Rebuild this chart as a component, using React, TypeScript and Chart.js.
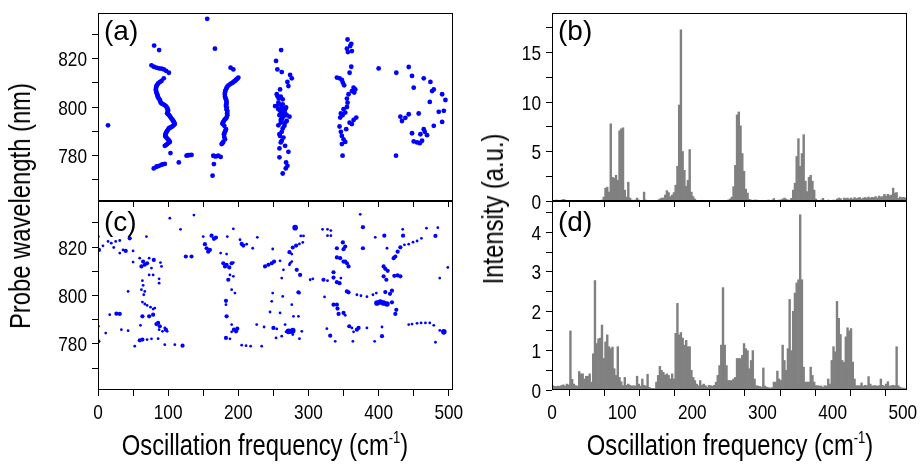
import React, { useEffect, useRef } from 'react';
import { Chart, registerables } from 'chart.js';

Chart.register(...registerables);

// ---------------- data ----------------
const FREQ_MAX = 506;
const BIN_WIDTH = 2.5; // histogram bin width (cm-1), bins start at 0
const FREQ_TICKS = [0, 50, 100, 150, 200, 250, 300, 350, 400, 450, 500];
const FREQ_LABELS = [0, 100, 200, 300, 400, 500];

const WAVE_MIN = 761;
const WAVE_MAX = 839;
const WAVE_TICKS = [770, 780, 790, 800, 810, 820, 830];
const WAVE_LABELS = [780, 800, 820];

const INT_B_MAX = 19;
const INT_B_TICKS = [0, 2.5, 5, 7.5, 10, 12.5, 15, 17.5];
const INT_B_LABELS = [0, 5, 10, 15];

const INT_D_MAX = 4.8;
const INT_D_TICKS = [0, 0.5, 1, 1.5, 2, 2.5, 3, 3.5, 4, 4.5];
const INT_D_LABELS = [0, 1, 2, 3, 4];

// (b) histogram intensities, 2.5 cm-1 bins from 0
const intensityB = [
  0.05, 0.05, 0.1, 0.05, 0.05, 0.1, 0.17, 0.1, 0.05, 0.05,
  0.05, 0, 0.05, 0, 0.05, 0.05, 0, 0.05, 0, 0.05,
  0, 0.05, 0, 0.05, 0, 0.05, 0.05, 0, 0.1, 0.4,
  1.3, 1.4, 0.9, 7.8, 2.4, 2.3, 2.6, 2.1, 7.1, 7.3,
  7.4, 1.1, 0.4, 1.9, 0.3, 0.1, 0.05, 0.1, 0.3, 0.1,
  0.05, 0.05, 0.9, 0.1, 0, 0, 0.05, 0, 0.05, 0.05,
  0.1, 0.2, 0.3, 0.3, 0.6, 1.05, 0.85, 0.45, 0.6, 0.85,
  1.6, 3.5, 9.7, 17.3, 5.0, 3.1, 1.5, 2.1, 5.2, 0.9,
  0.45, 0.2, 0.05, 0, 0.05, 0, 0, 0.05, 0, 0,
  0, 0.05, 0, 0, 0.05, 0, 0, 0.05, 0, 0.05,
  0.1, 0.2, 0.4, 1.45, 3.6, 8.7, 9.0, 7.6, 4.8, 3.0,
  1.2, 0.8, 0.17, 0.1, 0.05, 0.1, 0.1, 0.05, 0.05, 0,
  0.05, 0.05, 0.05, 0.1, 0.05, 0.1, 0.25, 0.05, 0.05, 0.1,
  0.1, 0.2, 0.3, 0.2, 0.1, 0.1, 0.27, 1.1, 1.8, 4.5,
  6.3, 3.5, 4.8, 6.7, 2.0, 0.95, 2.4, 2.6, 2.0, 1.1,
  0.2, 0.05, 0.05, 0.1, 0.27, 0.05, 0.05, 0.1, 0.05, 0.05,
  0.1, 0.05, 0.2, 0.3, 0.25, 0.05, 0.3, 0.25, 0.3, 0.2,
  0.3, 0.2, 0.35, 0.25, 0.3, 0.35, 0.2, 0.3, 0.35, 0.3,
  0.4, 0.3, 0.37, 0.35, 0.45, 0.3, 0.5, 0.4, 0.45, 0.68,
  0.5, 0.68, 0.55, 0.6, 1.3, 0.8, 0.85, 0.27, 0.4, 0.34,
  0.37, 0.3,
];

// (d) histogram intensities, 2.5 cm-1 bins from 0
const intensityD = [
  0.11, 0.09, 0.09, 0.1, 0.09, 0.12, 0.13, 0.1, 0.15, 0.13,
  1.5, 0.27, 0.15, 0.11, 0.1, 0.47, 0.41, 0.41, 0.28, 0.35,
  0.35, 0.41, 0.2, 0.92, 2.78, 1.18, 1.3, 1.32, 1.65, 0.8,
  1.22, 1.4, 1.1, 1.05, 1.09, 0.54, 0.37, 1.1, 0.32, 0.21,
  0.11, 0.32, 0.12, 0.15, 0.12, 0.1, 0.11, 0.1, 0.35, 0.15,
  0.1, 0.28, 0.12, 0.1, 0.4, 0.07, 0.04, 0.04, 0.04, 0.2,
  0.37, 0.6, 0.5, 0.45, 0.38, 0.41, 0.37, 0.28, 0.41, 0.28,
  1.44, 2.2, 1.4, 1.46, 1.32, 1.14, 1.26, 1.1, 1.1, 0.5,
  0.32, 0.24, 0.15, 0.11, 0.24, 0.12, 0.15, 0.11, 0.07, 0.12,
  0.11, 0.1, 0.12, 0.2, 0.37, 0.62, 1.14, 2.6, 1.14, 0.62,
  0.24, 0.24, 0.24, 0.28, 0.32, 0.8, 0.8, 0.8, 0.88, 1.18,
  1.05, 1.0, 0.54, 0.75, 1.0, 0.28, 0.11, 0.1, 0.09, 0.07,
  0.56, 0.1, 0.07, 0.06, 0.05, 0.06, 0.2, 0.2, 0.48, 0.28,
  0.24, 1.14, 0.75, 0.5, 1.05, 2.3, 1.0, 2.0, 2.46, 2.72,
  2.8, 4.45, 2.8, 0.58, 0.2, 0.2, 0.2, 0.58, 0.37, 0.2,
  0.11, 0.11, 0.1, 0.1, 0.07, 0.11, 0.1, 0.28, 0.15, 0.75,
  1.1, 0.97, 2.25, 1.82, 1.41, 0.75, 0.7, 1.35, 1.58, 1.5,
  1.56, 0.71, 0.28, 0.11, 0.11, 0.11, 0.18, 0.1, 0.12, 0.11,
  0.34, 0.15, 0.1, 0.11, 0.11, 0.1, 0.11, 0.28, 0.12, 0.1,
  0.15, 0.21, 0.1, 0.11, 0.12, 0.11, 1.1, 0.11, 0.07, 0.05,
  0.05, 0.04,
];

// (a) peak positions: [frequency cm-1, probe wavelength nm]
const peaksA: [number, number][] = [
  [14.3, 792.4], [155.7, 836.6], [166.7, 824.2],
  [80, 825.5], [87.1, 823.6], [76.2, 817.3], [79.5, 816.7], [83.3, 816.3], [87.1, 816.0], [90.5, 815.9], [93.8, 815.6], [97, 815], [101, 814.2],
  [93.8, 811.9], [90.5, 810.8], [88, 810.3], [85.7, 809.8], [84.5, 809.2], [83.3, 808.7], [82.8, 808.0], [82.4, 807.3], [82.8, 806.6], [83.3, 806.0],
  [84, 805.4], [84.8, 804.9], [85.3, 804.4], [85.7, 803.9], [87, 803.4], [88.1, 802.9], [88.8, 802.3], [89.5, 801.8], [91, 801.4], [92.9, 801.1],
  [94.8, 800.8], [96.7, 800.4], [98, 799.8], [99, 799.3], [99.5, 798.9], [100, 798.4], [99.3, 797.9], [98.6, 797.4], [100, 797], [101.4, 796.6],
  [102.6, 796.1], [103.8, 795.6], [105, 795.1], [106.2, 794.6], [107.2, 794.2], [108.1, 793.8], [108.8, 793.4], [109.5, 792.9], [108.3, 792.6],
  [107.1, 792.2], [105.2, 791.8], [103.3, 791.5], [102, 791.3], [101, 791.1], [99.8, 790.6], [98.6, 790.1], [97.6, 789.6], [96.7, 789.1],
  [96, 788.5], [95.7, 788.0], [96.6, 787.7], [97.6, 787.3], [99, 786.8], [100.5, 786.4], [101.5, 785.9], [102.4, 785.5], [100.5, 785.1],
  [98.6, 784.6], [96.9, 784.2], [95.2, 783.9], [103.3, 780.9],
  [79.5, 774.5], [83.3, 775.2], [84.5, 775.4], [87.1, 775.6], [90.5, 776.0], [92, 776.2], [95.2, 776.4], [115.2, 777.0],
  [126.2, 779.8], [128.5, 780], [130, 780.0], [133.3, 780.1],
  [163.3, 771.5], [165.2, 776.3], [164.3, 779.8], [166, 779.6], [168.1, 779.5], [171.4, 779.8], [174.8, 779.3],
  [176.2, 784.6], [177.4, 785.0], [178.6, 785.5], [181, 786.6], [180, 787.6], [179.5, 788.7], [180.2, 789.2], [181, 789.7], [181.7, 790.2],
  [182.4, 790.8], [180, 792.2], [177.6, 792.9], [177.6, 793.3], [178.6, 793.8], [179.8, 794.4], [181, 794.9], [182.2, 795.2], [183.3, 795.6],
  [184.3, 796.6], [184, 797.3], [184.3, 798.0], [184, 798.6], [183.3, 799.1], [183.5, 799.8], [182.4, 800.4], [182.8, 801.1], [183.3, 801.8],
  [183, 802.5], [182.4, 803.2], [181.6, 803.8], [181, 804.3], [180.8, 805.2], [181, 806], [181.5, 806.7], [182.4, 807.3], [183.2, 807.9],
  [184.3, 808.4], [186, 809], [188.1, 809.4], [190, 809.8], [191.9, 810.1], [193.5, 810.5], [195.2, 810.8], [196.5, 811.2], [197.6, 811.5],
  [198.8, 811.8], [200, 812.2], [192.9, 815.6], [189, 816.3],
  [261, 823.6], [253.8, 819.1], [255.7, 815.6], [261.9, 814.5], [273.8, 813.3], [276.2, 811.9], [270, 810.4], [271.4, 808.7], [259.5, 807.3],
  [254.8, 805.3], [260.5, 804.3], [263.3, 803.2], [258.6, 801.1], [261.9, 799.8], [265.2, 799.1], [259.5, 798.4], [264.3, 797.0], [269, 796.6],
  [262.4, 795.6], [260.5, 794.6], [266.7, 793.5], [265.7, 792.2], [261.9, 789.7], [259.5, 788.0], [261.9, 786.0], [258.6, 782.8], [266.7, 783.9],
  [271.4, 781.4], [258.6, 779.1], [268.1, 777.0], [270, 775.6], [267.6, 774.5], [263.3, 772.4],
  [257.1, 801.8], [263.3, 801.1], [254.8, 800.4], [268.1, 799.8], [257.1, 799.1], [261.9, 797.7], [266.7, 797.4], [258.6, 796.6], [264.3, 796.0],
  [261.9, 794.9], [269, 794.2], [260.5, 793.5], [257.1, 792.4], [263.3, 791.1], [258.6, 788.7], [264.3, 787.3], [260.5, 785.3], [266.7, 799.1],
  [272.9, 796.0], [252.4, 800.4], [255.7, 804.6], [257.6, 803.5],
  [355.7, 828.0], [361, 826.2], [359.5, 825.3], [354.8, 824.2], [361.9, 823.2], [356.2, 822.8], [361, 816.7], [358.6, 814.2], [340.5, 812.2],
  [344.3, 811.9], [347.6, 811.2], [349, 810.1], [350.9, 809.0], [364.3, 808.0], [366.7, 807.3], [361.9, 806.6], [365.2, 806.0], [357.1, 805.3],
  [354.8, 803.5], [355.7, 801.8], [354.8, 800.0], [350, 799.1], [352.4, 797.7], [346.2, 797.3], [348.6, 796.6], [345.2, 795.6], [368.1, 795.6],
  [364.3, 794.6], [358.6, 793.5], [361.9, 792.9], [344.3, 791.9], [353.8, 790.8], [346.2, 789.7], [347.6, 788.0], [350, 786.6], [352.4, 785.5],
  [347.6, 784.6], [348.6, 779.8],
  [400, 816.0],
  [425.2, 814.2], [442.9, 816.6], [447.6, 812.9], [464.3, 811.9], [473.8, 810.4], [450, 808.0], [478.6, 807.3], [476.2, 806.6], [490.5, 805.3],
  [495.2, 802.9], [472.9, 802.1], [485.7, 798], [492.9, 798.4], [457.1, 797.3], [442.9, 797.0], [431, 796.0], [433.3, 794.2], [438.1, 795.5],
  [490.5, 793.8], [478.6, 792.2], [464.3, 790.8], [465.7, 789.7], [459.5, 788.7], [447.6, 789.1], [469, 788.3], [461.9, 786.0], [454.8, 785.3],
  [450, 785.7], [458.6, 785.0], [424.8, 779.8],
];

// (c) peak positions, grouped by marker size class
const peaksCLarge: [number, number][] = [
  [281, 828.0], [271.4, 785.2], [277.6, 785.5], [397.6, 796.9], [402.4, 797.3], [407.1, 796.9], [411.9, 796.5], [492.9, 785.0],
];

const peaksCMedium: [number, number][] = [
  [377.6, 828.2], [45.2, 823.6], [161.9, 824.7], [168.1, 823.9], [165.2, 823.4], [408.1, 824.7], [434.8, 824.7], [481, 824.6],
  [1.4, 818.8], [39.5, 818.4], [152.4, 821.2], [154.8, 819.5], [159.5, 818.8], [157.1, 818.1], [204.8, 821.3], [207.1, 820.6],
  [277.6, 819.8], [282.4, 820.6], [272.9, 817.9], [340.5, 819.5], [349, 821.9], [350, 819.1], [352.4, 820.2], [377.6, 819.5],
  [431, 819.9], [427.1, 818.1], [421.4, 815.4], [125.2, 816.1], [133.3, 816.1], [64.3, 814.0], [66.7, 812.7], [70, 813.3],
  [79.5, 814.7], [61.9, 812.0], [178.6, 813.3], [183.3, 812.7], [190.5, 813.3], [181, 812.0], [187.1, 811.6], [238.1, 812.0],
  [242.9, 812.7], [247.6, 813.3], [251, 814.0], [340.5, 815.7], [345.2, 815.4], [352.4, 814.0], [354.8, 813.3], [357.1, 812.0],
  [350, 814.0], [407.1, 812.0], [409.5, 811.0], [412.9, 810.2], [423.8, 816.1], [185.7, 806.5], [283.3, 810.6], [288.1, 808.5],
  [321.4, 806.5], [335.7, 809.6], [335.7, 807.4], [340.5, 805.5], [344.3, 805.1], [407.1, 807.9], [411, 806.5], [422.4, 808.1],
  [427.1, 808.3], [431, 807.9], [182.4, 797.8], [285.7, 801.3], [354.8, 801.7], [357.1, 801.3], [409.5, 801.4], [419, 802.0],
  [416.2, 800.7], [419, 797.2], [335.7, 796.2], [340.5, 796.2], [341.4, 794.6], [342.9, 792.4], [350, 792.8], [26.2, 792.5],
  [31, 792.4], [63.3, 791.4], [72.9, 791.4], [78.6, 792.1], [83.3, 788.2], [85.7, 788.7], [88.1, 787.3], [96.7, 785.9],
  [183.3, 791.4], [193.8, 785.9], [198.6, 786.3], [196.7, 785.2], [182.4, 782.5], [250, 786.6], [274.8, 785.0], [331, 783.4],
  [358.1, 787.3], [369, 785.9], [371.4, 786.6], [423.8, 792.4], [425.2, 794.1], [0.5, 781.1], [59.5, 781.5], [63.3, 781.8],
  [120.5, 779.3], [404.8, 783.2],
];

const peaksCSmall: [number, number][] = [
  [102.4, 831.9], [136.7, 833.2], [373.8, 833.5], [117.6, 827.3], [192.9, 827.5], [320, 827.3], [327.1, 827.3], [331.9, 826.8],
  [434.3, 827.3], [468.1, 827.8], [484.3, 828.0], [0.5, 824.3], [14.3, 822.3], [19, 821.6], [25.2, 822.3], [31, 822.7],
  [69, 824.3], [150, 824.3], [184.3, 824.3], [202.4, 823.0], [227.1, 824.0], [289, 824.6], [292.9, 824.6], [327.1, 824.7],
  [331.9, 824.7], [395.2, 824.0], [7.1, 820.5], [22.4, 819.8], [35.7, 818.8], [50, 818.4], [31, 817.5], [174.8, 817.5],
  [183.3, 817.1], [211.9, 821.2], [220.5, 819.5], [249, 819.2], [287.1, 821.3], [291.9, 821.9], [276.2, 817.1], [411.9, 819.5],
  [436.7, 820.9], [442.9, 821.2], [449, 822.0], [454.8, 822.5], [461, 823.6], [59.5, 815.4], [72.9, 815.4], [50, 813.8],
  [89, 813.6], [76.2, 811.3], [90.5, 812.0], [192.9, 813.6], [259.5, 814.3], [273.8, 813.3], [272.9, 812.7], [276.2, 814.0],
  [72.9, 808.5], [78.6, 808.5], [63.3, 806.1], [64.3, 804.2], [87.1, 806.9], [87.1, 805.1], [61.9, 802.4], [66.7, 801.7],
  [65.2, 800.3], [42.9, 801.7], [188.1, 808.5], [192.9, 807.9], [264.3, 810.6], [261.9, 807.2], [302.4, 806.5], [306.2, 806.9],
  [327.1, 806.1], [346.2, 807.2], [487.1, 807.2], [498.6, 811.6], [190.5, 802.4], [195.2, 801.0], [182.4, 796.2], [249, 801.0],
  [263.3, 799.6], [287.1, 801.0], [369, 800.3], [374.8, 799.9], [383.3, 799.5], [391.9, 800.3], [396.7, 801.0], [322.9, 799.4],
  [247.6, 797.6], [245.2, 793.2], [276.2, 796.2], [259.5, 792.8], [278.6, 791.4], [285.7, 791.4], [63.3, 797.3], [66.7, 796.5],
  [70, 795.9], [74.8, 795.2], [78.6, 794.4], [81, 794.8], [352.4, 791.8], [16.7, 792.1], [95.2, 786.6], [98.6, 785.2],
  [91.9, 785.2], [87.1, 785.9], [60.5, 787.7], [190.5, 788.0], [190.5, 785.0], [188.1, 782.1], [226.2, 788.0], [236.7, 787.0],
  [254.8, 786.2], [266.7, 788.0], [268.1, 785.0], [287.1, 782.2], [290.5, 785.2], [326.2, 786.3], [361.9, 786.6], [364.3, 785.0],
  [383.3, 786.6], [404.8, 787.0], [442.9, 788.0], [447.6, 788.2], [454.8, 788.5], [460.5, 788.7], [466.7, 788.7], [472.9, 788.7],
  [478.6, 787.7], [487.1, 785.6], [0.5, 787.3], [11, 784.5], [33.3, 785.9], [42.9, 785.5], [52.4, 779.1], [70, 781.8],
  [76.2, 782.1], [85.7, 782.2], [95.2, 779.7], [109.5, 779.7], [204.8, 779.5], [211, 779.3], [217.6, 779.1], [233.3, 779.1],
  [253.8, 782.5], [261.9, 783.2], [277.6, 783.9], [338.1, 781.1], [363.3, 781.1], [394.3, 781.1], [481, 780.7],
];

// ---------------- layout / style ----------------
const W = 921;
const H = 464;
const Y_AXIS_W = 70;
const X_AXIS_H = 40;
const TICK_LEN = 6;
const TICK_FONT_SIZE = 21;
const CONDENSE = 0.82; // horizontal squeeze to imitate a narrow sans face
const REGULAR = "'Liberation Sans', Arial, sans-serif";
const BLUE = '#0000ff';
const GREY = '#808080';

type Area = { left: number; top: number; right: number; bottom: number };

const framePlugin = {
  id: 'frame',
  afterDatasetsDraw(chart: any) {
    const { ctx, chartArea: a } = chart;
    ctx.save();
    ctx.strokeStyle = '#000';
    ctx.lineWidth = 1;
    const l = Math.round(a.left) + 0.5;
    const t = Math.round(a.top) + 0.5;
    const r = Math.round(a.right) - 0.5;
    const b = Math.round(a.bottom) - 0.5;
    ctx.strokeRect(l, t, r - l, b - t);
    ctx.restore();
  },
};

// Draws tick labels of the chart's own scales in a condensed face
const condensedTickLabels = {
  id: 'condensedTickLabels',
  afterDraw(chart: any, _args: any, opts: any) {
    const { ctx } = chart;
    const xs = chart.scales.x;
    const ys = chart.scales.y;
    ctx.save();
    ctx.fillStyle = '#000';
    ctx.font = `${TICK_FONT_SIZE}px ${REGULAR}`;
    if (opts.xLabels) {
      ctx.textAlign = 'center';
      ctx.textBaseline = 'alphabetic';
      for (const v of opts.xLabels as number[]) {
        const px = xs.getPixelForValue(v);
        ctx.save();
        ctx.translate(px, xs.top + 28.5);
        ctx.scale(CONDENSE, 1);
        ctx.fillText(String(v), 0, 0);
        ctx.restore();
      }
    }
    if (opts.yLabels) {
      ctx.textAlign = 'right';
      ctx.textBaseline = 'alphabetic';
      for (const v of opts.yLabels as number[]) {
        const py = ys.getPixelForValue(v);
        ctx.save();
        ctx.translate(ys.right - 11, py + 7.5);
        ctx.scale(CONDENSE, 1);
        ctx.fillText(String(v), 0, 0);
        ctx.restore();
      }
    }
    ctx.restore();
  },
};

function toPoints(pairs: [number, number][]) {
  return pairs.map(([x, y]) => ({ x, y }));
}

function toBins(values: number[]) {
  return values.map((y, i) => ({ x: i * BIN_WIDTH + BIN_WIDTH / 2, y }));
}

function panelOptions(
  area: Area,
  yMin: number,
  yMax: number,
  yTicks: number[],
  yLabels: number[],
  showXLabels: boolean
): any {
  const grid = {
    display: true,
    drawOnChartArea: false,
    drawTicks: true,
    tickLength: TICK_LEN,
    color: '#000',
    tickColor: '#000',
    lineWidth: 1,
  };
  return {
    responsive: false,
    animation: false,
    events: [],
    layout: {
      padding: {
        left: area.left - Y_AXIS_W,
        top: area.top,
        right: W - area.right,
        bottom: H - area.bottom - X_AXIS_H,
      },
    },
    plugins: {
      legend: { display: false },
      tooltip: { enabled: false },
      condensedTickLabels: { xLabels: showXLabels ? FREQ_LABELS : null, yLabels },
    },
    scales: {
      x: {
        type: 'linear',
        position: 'bottom',
        min: 0,
        max: FREQ_MAX,
        offset: false,
        afterBuildTicks: (s: any) => {
          s.ticks = FREQ_TICKS.map((value) => ({ value }));
        },
        afterFit: (s: any) => {
          s.height = X_AXIS_H;
        },
        grid,
        border: { display: false },
        ticks: { display: false },
      },
      y: {
        type: 'linear',
        position: 'left',
        min: yMin,
        max: yMax,
        afterBuildTicks: (s: any) => {
          s.ticks = yTicks.map((value) => ({ value }));
        },
        afterFit: (s: any) => {
          s.width = Y_AXIS_W;
        },
        grid,
        border: { display: false },
        ticks: { display: false },
      },
    },
  };
}

const AREA_A: Area = { left: 98, top: 13, right: 453, bottom: 201 };
const AREA_C: Area = { left: 98, top: 201, right: 453, bottom: 390 };
const AREA_B: Area = { left: 552, top: 13, right: 907, bottom: 201 };
const AREA_D: Area = { left: 552, top: 201, right: 907, bottom: 390 };

export default function App() {
  const refA = useRef<HTMLCanvasElement>(null);
  const refB = useRef<HTMLCanvasElement>(null);
  const refC = useRef<HTMLCanvasElement>(null);
  const refD = useRef<HTMLCanvasElement>(null);

  useEffect(() => {
    const charts: Chart[] = [];
    const plugins = [framePlugin, condensedTickLabels];
    charts.push(
      new Chart(refA.current as HTMLCanvasElement, {
        type: 'scatter',
        data: {
          datasets: [
            {
              data: toPoints(peaksA),
              pointRadius: 2.4,
              pointBackgroundColor: BLUE,
              pointBorderWidth: 0,
              pointBorderColor: BLUE,
            },
          ],
        },
        options: panelOptions(AREA_A, WAVE_MIN, WAVE_MAX, WAVE_TICKS, WAVE_LABELS, false),
        plugins,
      } as any)
    );
    charts.push(
      new Chart(refC.current as HTMLCanvasElement, {
        type: 'scatter',
        data: {
          datasets: [
            { data: toPoints(peaksCSmall), pointRadius: 1.4, pointBackgroundColor: BLUE, pointBorderWidth: 0, pointBorderColor: BLUE },
            { data: toPoints(peaksCMedium), pointRadius: 2.1, pointBackgroundColor: BLUE, pointBorderWidth: 0, pointBorderColor: BLUE },
            { data: toPoints(peaksCLarge), pointRadius: 2.8, pointBackgroundColor: BLUE, pointBorderWidth: 0, pointBorderColor: BLUE },
          ],
        },
        options: panelOptions(AREA_C, WAVE_MIN, WAVE_MAX, WAVE_TICKS, WAVE_LABELS, true),
        plugins,
      } as any)
    );
    const barDataset = (values: number[]) => ({
      data: toBins(values),
      backgroundColor: GREY,
      borderWidth: 0,
      barPercentage: 1,
      categoryPercentage: 1,
      grouped: false,
    });
    charts.push(
      new Chart(refB.current as HTMLCanvasElement, {
        type: 'bar',
        data: { datasets: [barDataset(intensityB)] },
        options: panelOptions(AREA_B, 0, INT_B_MAX, INT_B_TICKS, INT_B_LABELS, false),
        plugins,
      } as any)
    );
    charts.push(
      new Chart(refD.current as HTMLCanvasElement, {
        type: 'bar',
        data: { datasets: [barDataset(intensityD)] },
        options: panelOptions(AREA_D, 0, INT_D_MAX, INT_D_TICKS, INT_D_LABELS, true),
        plugins,
      } as any)
    );
    return () => charts.forEach((c) => c.destroy());
  }, []);

  const canvasStyle: React.CSSProperties = { position: 'absolute', left: 0, top: 0 };
  const letter = (left: number, top: number): React.CSSProperties => ({
    position: 'absolute',
    left,
    top,
    fontFamily: REGULAR,
    fontSize: 28,
    lineHeight: '28px',
    color: '#000',
    whiteSpace: 'nowrap',
  });
  const title = (cx: number, cy: number, rotate: boolean): React.CSSProperties => ({
    position: 'absolute',
    left: cx,
    top: cy,
    transform: `translate(-50%, -50%)${rotate ? ' rotate(-90deg)' : ''} scaleX(${CONDENSE})`,
    fontFamily: REGULAR,
    fontSize: 29,
    lineHeight: '32px',
    color: '#000',
    whiteSpace: 'nowrap',
  });
  const sup: React.CSSProperties = { fontSize: '0.55em', position: 'relative', top: '-0.75em' };

  return (
    <div style={{ position: 'fixed', left: 0, top: 0, width: W, height: H, background: '#fff', overflow: 'hidden' }}>
      <canvas ref={refA} width={W} height={H} style={canvasStyle} />
      <canvas ref={refC} width={W} height={H} style={canvasStyle} />
      <canvas ref={refB} width={W} height={H} style={canvasStyle} />
      <canvas ref={refD} width={W} height={H} style={canvasStyle} />
      <div style={letter(104, 17)}>(a)</div>
      <div style={letter(558, 17)}>(b)</div>
      <div style={letter(104, 208)}>(c)</div>
      <div style={letter(558, 208)}>(d)</div>
      <div style={title(20, 206, true)}>Probe wavelength (nm)</div>
      <div style={title(493, 209, true)}>Intensity (a.u.)</div>
      <div style={title(265, 447, false)}>
        Oscillation frequency (cm<span style={sup}>-1</span>)
      </div>
      <div style={title(730, 447, false)}>
        Oscillation frequency (cm<span style={sup}>-1</span>)
      </div>
    </div>
  );
}
